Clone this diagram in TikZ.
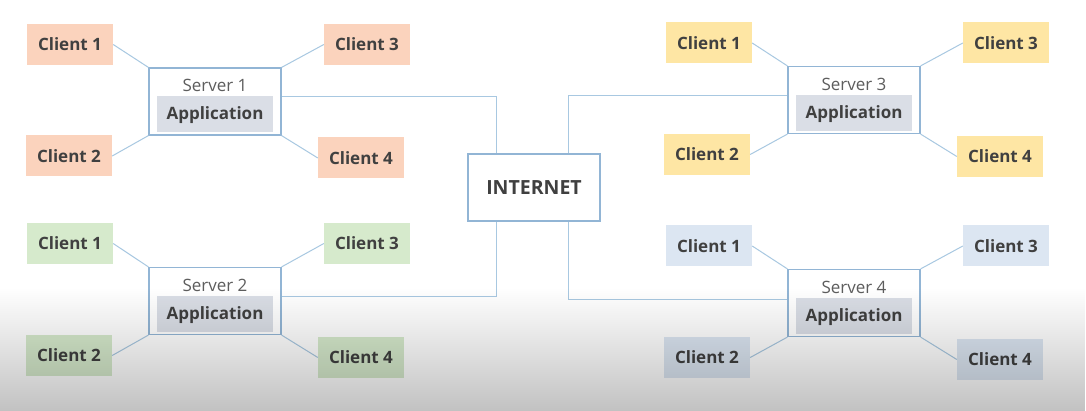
\documentclass[tikz,border=0pt]{standalone}
\usepackage{fontspec}
\setmainfont{Open Sans}
\usetikzlibrary{fadings}

\definecolor{orangeclair}{HTML}{FBD3BD}
\definecolor{vertclair}{HTML}{D6EACC}
\definecolor{jauneclair}{HTML}{FEE6A4}
\definecolor{bleuclair}{HTML}{DCE6F2}
\definecolor{grisapp}{HTML}{DADEE6}
\definecolor{bordure}{HTML}{92B5D5}
\definecolor{bleulien}{HTML}{A8C8E1}
\definecolor{gristexte}{HTML}{404040}

\tikzfading[name=fondbas, top color=transparent!100, bottom color=transparent!76]

\begin{document}
\begin{tikzpicture}[x=1pt,y=-1pt]
\tikzstyle{client}=[minimum width=86pt, minimum height=41pt, inner sep=0pt, text=gristexte, font=\fontsize{17}{20}\selectfont\bfseries];
\tikzstyle{serveur}=[draw=bordure, line width=1.2pt, fill=white, minimum width=132pt, minimum height=67pt, inner sep=0pt];
\tikzstyle{nomserveur}=[inner sep=0pt, text=gristexte!85, font=\fontsize{17}{20}\selectfont];
\tikzstyle{appli}=[fill=grisapp, minimum width=116pt, minimum height=36pt, inner sep=0pt, text height=13pt, text depth=2pt, text=gristexte, font=\fontsize{17}{20}\selectfont\bfseries];
\tikzstyle{lien}=[draw=bleulien, line width=1pt];

\fill[white] (0,0) rectangle (1086,411);
\useasboundingbox (0,0) rectangle (1086,411);

% groupe 1
\node[client, fill=orangeclair] (c11) at (70,44.5) {Client 1};
\node[client, fill=orangeclair] (c13) at (367,44.5) {Client 3};
\node[client, fill=orangeclair] (c12) at (69,156) {Client 2};
\node[client, fill=orangeclair] (c14) at (361,158) {Client 4};
\node[serveur] (s1) at (215,101.5) {};
\node[nomserveur] (n1) at (215,85) {Server 1};
\node[appli] (a1) at (215,114.5) {Application};

% groupe 2
\node[client, fill=vertclair] (c21) at (70,243.5) {Client 1};
\node[client, fill=vertclair] (c23) at (367,243.5) {Client 3};
\node[client, fill=vertclair] (c22) at (69,355.5) {Client 2};
\node[client, fill=vertclair] (c24) at (361,357.5) {Client 4};
\node[serveur] (s2) at (215,301) {};
\node[nomserveur] (n2) at (215,285) {Server 2};
\node[appli] (a2) at (215,314) {Application};

% groupe 3
\node[client, fill=jauneclair] (c31) at (709,43) {Client 1};
\node[client, fill=jauneclair] (c33) at (1006,43) {Client 3};
\node[client, fill=jauneclair] (c32) at (707,154.5) {Client 2};
\node[client, fill=jauneclair] (c34) at (1000,156.5) {Client 4};
\node[serveur] (s3) at (854,100) {};
\node[nomserveur] (n3) at (854,84) {Server 3};
\node[appli] (a3) at (854,113) {Application};

% groupe 4
\node[client, fill=bleuclair] (c41) at (709,246) {Client 1};
\node[client, fill=bleuclair] (c43) at (1006,246) {Client 3};
\node[client, fill=bleuclair] (c42) at (707,357.5) {Client 2};
\node[client, fill=bleuclair] (c44) at (1000,359.5) {Client 4};
\node[serveur] (s4) at (854,303) {};
\node[nomserveur] (n4) at (854,287) {Server 4};
\node[appli] (a4) at (854,316) {Application};

\node[serveur, text=gristexte, font=\fontsize{19.5}{22}\selectfont\bfseries] (net) at (534,187.5) {INTERNET};

\draw[lien] (c11.east) -- (s1.north west);
\draw[lien] (c12.east) -- (s1.south west);
\draw[lien] (c13.west) -- (s1.north east);
\draw[lien] (c14.west) -- (s1.south east);
\draw[lien] (c21.east) -- (s2.north west);
\draw[lien] (c22.east) -- (s2.south west);
\draw[lien] (c23.west) -- (s2.north east);
\draw[lien] (c24.west) -- (s2.south east);
\draw[lien] (c31.east) -- (s3.north west);
\draw[lien] (c32.east) -- (s3.south west);
\draw[lien] (c33.west) -- (s3.north east);
\draw[lien] (c34.west) -- (s3.south east);
\draw[lien] (c41.east) -- (s4.north west);
\draw[lien] (c42.east) -- (s4.south west);
\draw[lien] (c43.west) -- (s4.north east);
\draw[lien] (c44.west) -- (s4.south east);

\draw[lien] ([yshift=5pt]s1.east) -| ([xshift=-38pt]net.north);
\draw[lien] ([yshift=4pt]s3.west) -| ([xshift=34pt]net.north);
\draw[lien] ([yshift=4pt]s2.east) -| ([xshift=-38pt]net.south);
\draw[lien] ([yshift=3pt]s4.west) -| ([xshift=34pt]net.south);

% ombre du bas
\fill[black, path fading=fondbas] (0,288) rectangle (1086,411);
\end{tikzpicture}
\end{document}
